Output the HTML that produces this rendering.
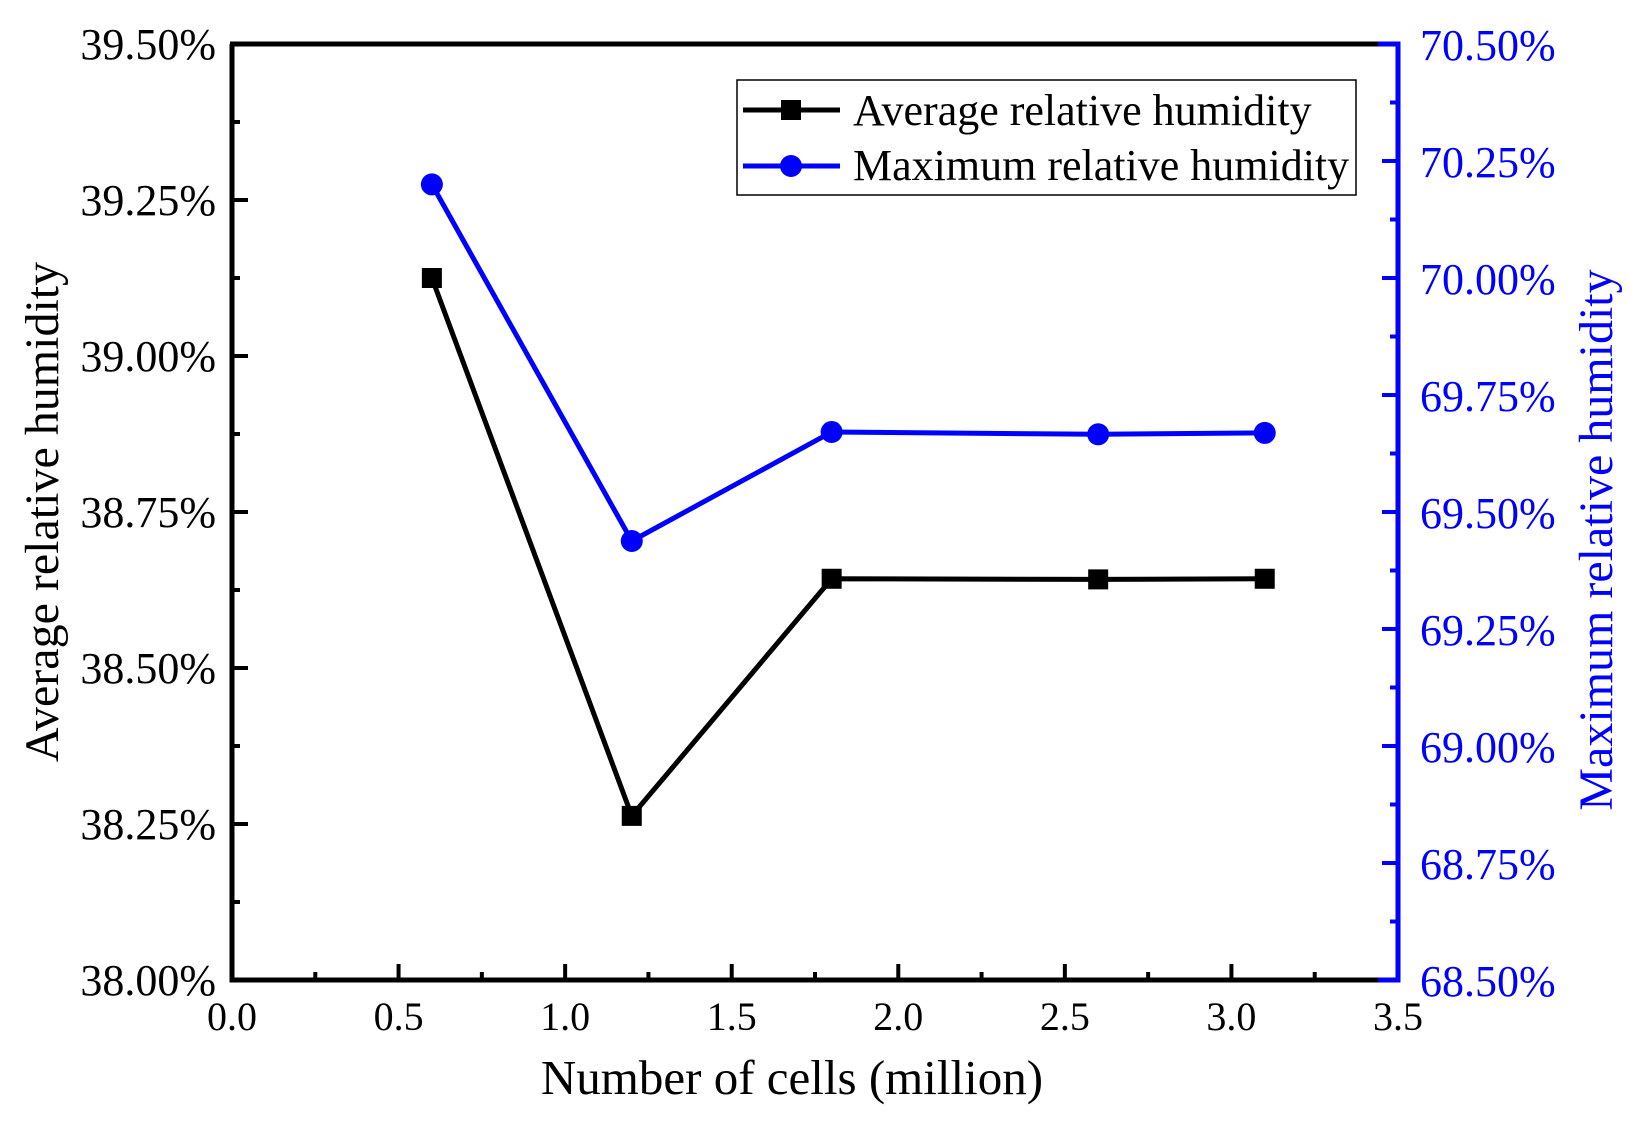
<!DOCTYPE html>
<html><head><meta charset="utf-8"><style>
html,body{margin:0;padding:0;background:#fff}
svg{display:block;font-family:"Liberation Serif",serif}
</style></head><body>
<svg id="chart" width="1641" height="1124" viewBox="0 0 1641 1124" xmlns="http://www.w3.org/2000/svg">
<g id="grid"></g>
<g id="marks"></g>
</svg>
<script>
const cells = [0.6, 1.2, 1.8, 2.6, 3.1];
const avgHumidity = [39.125, 38.263, 38.643, 38.642, 38.643];
const maxHumidity = [70.20, 69.438, 69.671, 69.666, 69.669];
const xTicks = ["0.0","0.5","1.0","1.5","2.0","2.5","3.0","3.5"];
const yLeftTicks = ["38.00%","38.25%","38.50%","38.75%","39.00%","39.25%","39.50%"];
const yRightTicks = ["68.50%","68.75%","69.00%","69.25%","69.50%","69.75%","70.00%","70.25%","70.50%"];

const L=232, R=1398, T=44, B=980;
const X = v => L + (v-0)/(3.5-0)*(R-L);
const YL = v => B - (v-38)/(39.5-38)*(B-T);
const YR = v => B - (v-68.5)/(70.5-68.5)*(B-T);
const NS='http://www.w3.org/2000/svg';
const svg=document.getElementById('chart');
const g=document.getElementById('grid');
const m=document.getElementById('marks');
function el(tag, attrs, parent){const e=document.createElementNS(NS,tag);for(const k in attrs)e.setAttribute(k,attrs[k]);(parent||svg).appendChild(e);return e;}

xTicks.forEach((t,i)=>{
  const v=parseFloat(t), x=X(v);
  if(i>0&&i<xTicks.length-1){const tk=el('line',{x1:x,x2:x,y1:B,y2:B-16,stroke:'#000','stroke-width':4},g);
  
  }
  if(i<xTicks.length-1){const xm=X(v+0.25);const mt=el('line',{x1:xm,x2:xm,y1:B,y2:B-8,stroke:'#000','stroke-width':4},g);
  
  }
  const tx=el('text',{x:x,y:B+50,'font-size':40,'text-anchor':'middle',fill:'#000'},g);
  tx.textContent=t;
  
  
});
yLeftTicks.forEach((t,i)=>{
  const v=parseFloat(t), y=YL(v);
  if(i>0&&i<yLeftTicks.length-1){const tk=el('line',{x1:L,x2:L+16,y1:y,y2:y,stroke:'#000','stroke-width':4},g);
  
  }
  if(i<yLeftTicks.length-1){const ym=YL(v+0.125);const mt=el('line',{x1:L,x2:L+8,y1:ym,y2:ym,stroke:'#000','stroke-width':4},g);
  
  }
  const tx=el('text',{x:L-16,y:y+15,'font-size':44,'text-anchor':'end',fill:'#000'},g);
  tx.textContent=t;
  
  
});
yRightTicks.forEach((t,i)=>{
  const v=parseFloat(t), y=YR(v);
  if(i>0&&i<yRightTicks.length-1){const tk=el('line',{x1:R,x2:R-16,y1:y,y2:y,stroke:'#00f','stroke-width':4},g);
  
  }
  if(i<yRightTicks.length-1){const ym=YR(v+0.125);const mt=el('line',{x1:R,x2:R-8,y1:ym,y2:ym,stroke:'#00f','stroke-width':4},g);
  
  }
  const tx=el('text',{x:R+22,y:y+16,'font-size':44,'text-anchor':'start',fill:'#00f'},g);
  tx.textContent=t;
  
  
});
const sp1=el('path',{d:`M${L},${T} L${L},${B} L${R-20},${B} M${L-2},${T} L${R-20},${T}`,stroke:'#000','stroke-width':5,fill:'none'},g);


const sp2=el('path',{d:`M${R-20},${T} L${R},${T} L${R},${B} L${R-20},${B}`,stroke:'#00f','stroke-width':5,fill:'none'},g);



const avgPts=cells.map((c,i)=>X(c)+','+YL(avgHumidity[i])).join(' ');
const l1=el('polyline',{points:avgPts,stroke:'#000','stroke-width':5,fill:'none'},m);


const maxPts=cells.map((c,i)=>X(c)+','+YR(maxHumidity[i])).join(' ');
const l2=el('polyline',{points:maxPts,stroke:'#00f','stroke-width':5,fill:'none'},m);


cells.forEach((c,i)=>{
  const s=el('rect',{x:X(c)-10,y:YL(avgHumidity[i])-10,width:20,height:20,fill:'#000'},m);
  
  
  const p=el('circle',{cx:X(c),cy:YR(maxHumidity[i]),r:11,fill:'#00f'},m);
  
  
});
</script>
<svg style="position:absolute;left:0;top:0" width="1641" height="1124">
<g font-family="Liberation Serif, serif">
<rect x="737" y="80" width="619" height="115" fill="#fff" stroke="#000" stroke-width="1.5"/>
<g>
<line x1="743" y1="110" x2="840" y2="110" stroke="#000" stroke-width="5"/>
<rect x="781" y="100" width="20" height="20" fill="#000"/>
<text x="853" y="125" font-size="44" fill="#000">Average relative humidity</text>
</g>
<g>
<line x1="743" y1="166" x2="840" y2="166" stroke="#00f" stroke-width="5"/>
<circle cx="791" cy="166" r="11" fill="#00f"/>
<text x="853" y="180" font-size="44" fill="#000">Maximum relative humidity</text>
</g>
<text x="792" y="1094" font-size="49" text-anchor="middle" fill="#000">Number of cells (million)</text>
<text transform="translate(58,512) rotate(-90)" font-size="48" text-anchor="middle" fill="#000">Average relative humidity</text>
<text transform="translate(1612,540) rotate(-90)" font-size="48" text-anchor="middle" fill="#00f">Maximum relative humidity</text>
</g>
</svg>
</body></html>
